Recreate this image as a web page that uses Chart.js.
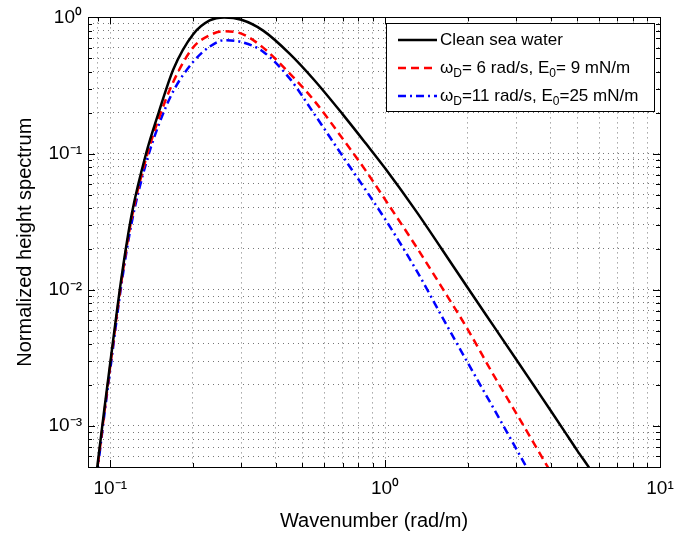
<!DOCTYPE html>
<html>
<head>
<meta charset="utf-8">
<script src="https://cdn.jsdelivr.net/npm/chart.js@4.4.1/dist/chart.umd.min.js"></script>
<style>
  html, body { margin: 0; padding: 0; background: #fff; }
</style>
</head>
<body>
<canvas id="spectrumChart" width="693" height="534"></canvas>
<script>
var waveNumber = [0.088, 0.09, 0.095, 0.1, 0.11, 0.12, 0.135, 0.15, 0.17, 0.2, 0.23, 0.26, 0.3, 0.36, 0.45, 0.55, 0.7, 0.85, 1.0, 1.3, 1.6, 2.0, 2.5, 3.0, 3.5, 4.0, 4.5, 5.0, 5.5, 6.0];

// normalized height spectrum
var cleanWater  = [3.6e-4, 5.3e-4, 1.29e-3, 2.9e-3, 0.0125, 0.0368, 0.10, 0.20, 0.42, 0.75, 0.95, 1.0, 0.96, 0.80, 0.54, 0.35, 0.195, 0.119, 0.078, 0.0375, 0.0202, 0.0103, 5.3e-3, 3.08e-3, 1.94e-3, 1.30e-3, 9.1e-4, 6.6e-4, 5.0e-4, 3.85e-4];
var slick6rad   = [3.4e-4, 5.0e-4, 1.22e-3, 2.75e-3, 0.0118, 0.0345, 0.092, 0.18, 0.34, 0.60, 0.74, 0.79, 0.76, 0.60, 0.387, 0.247, 0.129, 0.075, 0.046, 0.0206, 0.0106, 5.1e-3, 2.3e-3, 1.24e-3, 7.3e-4, 4.6e-4, null, null, null, null];
var slick11rad  = [3.3e-4, 4.8e-4, 1.17e-3, 2.6e-3, 0.0112, 0.032, 0.085, 0.162, 0.29, 0.47, 0.61, 0.68, 0.66, 0.56, 0.355, 0.198, 0.096, 0.054, 0.033, 0.0139, 6.5e-3, 2.9e-3, 1.31e-3, 6.8e-4, 3.9e-4, null, null, null, null, null];

// grid lines / tick labels
var xGridValues = [0.09, 0.1, 0.2, 0.3, 0.4, 0.5, 0.6, 0.7, 0.8, 0.9, 1, 2, 3, 4, 5, 6, 7, 8, 9, 10];
var xMajorValues = [0.1, 1, 10];
var xMajorLabels = ['10\u207B\u00B9', '10\u2070', '10\u00B9'];
var yGridValues = [5e-4, 6e-4, 7e-4, 8e-4, 9e-4, 1e-3, 2e-3, 3e-3, 4e-3, 5e-3, 6e-3, 7e-3, 8e-3, 9e-3,
  0.01, 0.02, 0.03, 0.04, 0.05, 0.06, 0.07, 0.08, 0.09, 0.1, 0.2, 0.3, 0.4, 0.5, 0.6, 0.7, 0.8, 0.9, 1];
var yMajorValues = [1e-3, 0.01, 0.1, 1];
var yMajorLabels = ['10\u207B\u00B3', '10\u207B\u00B2', '10\u207B\u00B9', '10\u2070'];

// legend text, [text, isSubscript]
var legendParts = [
  [['Clean sea water', false]],
  [['\u03C9', false], ['D', true], ['= 6 rad/s, E', false], ['0', true], ['= 9 mN/m', false]],
  [['\u03C9', false], ['D', true], ['=11 rad/s, E', false], ['0', true], ['=25 mN/m', false]]
];
var seriesLabels = ['Clean sea water', '\u03C9D= 6 rad/s, E0= 9 mN/m', '\u03C9D=11 rad/s, E0=25 mN/m'];

var FONT = '"Liberation Sans", Arial, Helvetica, sans-serif';

function toPoints(ys) {
  return waveNumber.map(function (x, i) { return { x: x, y: ys[i] }; });
}

// box round the plot, with inward ticks on all four sides, plus the legend
var boxPlugin = {
  id: 'box',
  afterDraw: function (chart) {
    var ctx = chart.ctx, a = chart.chartArea;
    var xs = chart.scales.x, ys = chart.scales.y;
    ctx.save();
    ctx.strokeStyle = '#000';
    ctx.lineWidth = 1;
    ctx.beginPath();
    xs.ticks.forEach(function (t) {
      var px = Math.round(xs.getPixelForValue(t.value)) + 0.5;
      var len = xMajorValues.indexOf(t.value) >= 0 ? 7 : 4;
      ctx.moveTo(px, a.bottom); ctx.lineTo(px, a.bottom - len);
      ctx.moveTo(px, a.top); ctx.lineTo(px, a.top + len);
    });
    ys.ticks.forEach(function (t) {
      var py = Math.round(ys.getPixelForValue(t.value)) + 0.5;
      var len = yMajorValues.indexOf(t.value) >= 0 ? 7 : 4;
      ctx.moveTo(a.left, py); ctx.lineTo(a.left + len, py);
      ctx.moveTo(a.right, py); ctx.lineTo(a.right - len, py);
    });
    ctx.stroke();
    ctx.strokeRect(Math.round(a.left) + 0.5, Math.round(a.top) + 0.5,
      Math.round(a.right - a.left), Math.round(a.bottom - a.top));

    // legend
    var lx = 386.5, ly = 23.5, lw = 268, lh = 88;
    ctx.fillStyle = '#fff';
    ctx.fillRect(lx, ly, lw, lh);
    ctx.strokeRect(lx, ly, lw, lh);
    var rows = [40, 68, 96];
    chart.data.datasets.forEach(function (ds, i) {
      var y = rows[i];
      ctx.save();
      ctx.strokeStyle = ds.borderColor;
      ctx.lineWidth = ds.borderWidth;
      ctx.setLineDash(ds.borderDash || []);
      ctx.beginPath();
      ctx.moveTo(398, y); ctx.lineTo(437, y);
      ctx.stroke();
      ctx.restore();
      var x = 440;
      ctx.fillStyle = '#000';
      ctx.textBaseline = 'middle';
      legendParts[i].forEach(function (p) {
        ctx.font = (p[1] ? '12px ' : '17px ') + FONT;
        ctx.fillText(p[0], x, p[1] ? y + 6 : y);
        x += ctx.measureText(p[0]).width;
      });
    });
    ctx.restore();
  }
};

new Chart(document.getElementById('spectrumChart').getContext('2d'), {
  type: 'line',
  data: {
    datasets: [{
      label: seriesLabels[0],
      data: toPoints(cleanWater),
      borderColor: '#000000',
      borderWidth: 2.5
    }, {
      label: seriesLabels[1],
      data: toPoints(slick6rad),
      borderColor: '#ff0000',
      borderWidth: 2.5,
      borderDash: [8, 5]
    }, {
      label: seriesLabels[2],
      data: toPoints(slick11rad),
      borderColor: '#0000ff',
      borderWidth: 2.5,
      borderDash: [8, 4, 2, 4]
    }]
  },
  options: {
    responsive: false,
    animation: false,
    devicePixelRatio: 1,
    layout: { padding: { left: 0, top: 17, right: 33, bottom: 0 } },
    elements: {
      point: { radius: 0 },
      line: { cubicInterpolationMode: 'monotone', fill: false }
    },
    plugins: {
      legend: { display: false },
      tooltip: { enabled: false }
    },
    scales: {
      x: {
        type: 'logarithmic',
        min: 0.083,
        max: 10,
        afterBuildTicks: function (scale) {
          scale.ticks = xGridValues.map(function (v) { return { value: v }; });
        },
        afterFit: function (scale) { scale.height = 67; },
        ticks: {
          autoSkip: false,
          maxRotation: 0,
          padding: 10,
          color: '#000',
          font: { family: FONT, size: 19 },
          callback: function (v) {
            var i = xMajorValues.indexOf(v);
            return i >= 0 ? xMajorLabels[i] : '';
          }
        },
        grid: { color: '#777', lineWidth: 1, drawTicks: false },
        border: { display: false, dash: [1, 4] },
        title: {
          display: true,
          text: 'Wavenumber (rad/m)',
          color: '#000',
          font: { family: FONT, size: 20 },
          padding: { top: 0, bottom: 1 }
        }
      },
      y: {
        type: 'logarithmic',
        min: 5e-4,
        max: 1,
        afterBuildTicks: function (scale) {
          scale.ticks = yGridValues.map(function (v) { return { value: v }; });
        },
        afterFit: function (scale) { scale.width = 88; },
        ticks: {
          autoSkip: false,
          padding: 6,
          color: '#000',
          font: { family: FONT, size: 19 },
          callback: function (v) {
            var i = yMajorValues.indexOf(v);
            return i >= 0 ? yMajorLabels[i] : '';
          }
        },
        grid: { color: '#777', lineWidth: 1, drawTicks: false },
        border: { display: false, dash: [1, 4] },
        title: {
          display: true,
          text: 'Normalized height spectrum',
          color: '#000',
          font: { family: FONT, size: 20 },
          padding: { top: 13, bottom: 0 }
        }
      }
    }
  },
  plugins: [boxPlugin]
});
</script>
</body>
</html>
